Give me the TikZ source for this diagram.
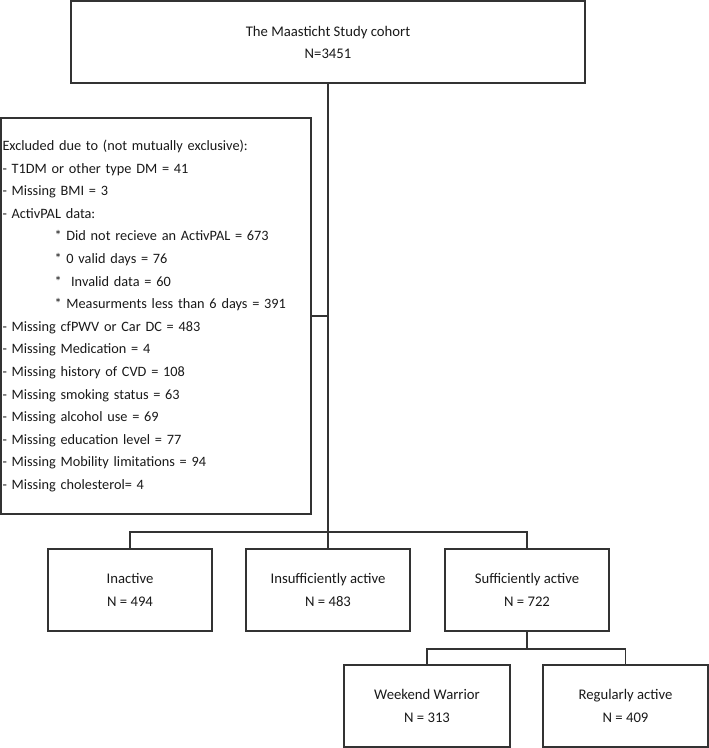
\documentclass[tikz,border=0pt]{standalone}
\usepackage{fontspec}
\setmainfont{Carlito}
\begin{document}
\begin{tikzpicture}[x=1pt,y=-1pt,
  box/.style={draw=black!80, line width=1.2pt, rectangle, minimum width=164pt, minimum height=82pt,
    align=center, inner sep=0pt, text=black!90, font=\fontsize{14.7}{23}\selectfont},
  conn/.style={draw=black!80, line width=1.2pt}]
\useasboundingbox (0,0) rectangle (709,748);
\node[box, minimum width=514pt, font=\fontsize{14.7}{22}\selectfont] (top) at (328,42) {The Maasticht Study cohort\\N=3451};
\node[box, minimum width=310pt, minimum height=396pt, text width=307pt, align=left, inner xsep=1.5pt,
  font=\fontsize{14.3}{22.6}\selectfont] (excl) at (156,316) {%
Excluded due to (not mutually exclusive):\\
- T1DM or other type DM = 41\\
- Missing BMI = 3\\
- ActivPAL data:\\
\hspace*{52pt}* Did not recieve an ActivPAL = 673\\
\hspace*{52pt}* 0 valid days = 76\\
\hspace*{52pt}*\ \ Invalid data = 60\\
\hspace*{52pt}* Measurments less than 6 days = 391\\
- Missing cfPWV or Car DC = 483\\
- Missing Medication = 4\\
- Missing history of CVD = 108\\
- Missing smoking status = 63\\
- Missing alcohol use = 69\\
- Missing education level = 77\\
- Missing Mobility limitations = 94\\
- Missing cholesterol= 4};
\node[box] (inact) at (130,590) {Inactive\\N = 494};
\node[box] (insuf) at (328,590) {Insufficiently active\\N = 483};
\node[box] (suff) at (527,590) {Sufficiently active\\N = 722};
\node[box, minimum width=166pt] (ww) at (427,706) {Weekend Warrior\\N = 313};
\node[box, minimum width=165pt] (reg) at (625.5,706) {Regularly active\\N = 409};
\coordinate (bus) at (328,532);
\coordinate (sub) at (527,649);
\draw[conn] (top.south) -- (bus);
\draw[conn] (excl.east) -- (excl.east -| top.south);
\draw[conn] (inact.north) |- (bus) -| (suff.north);
\draw[conn] (insuf.north) -- (bus);
\draw[conn] (suff.south) -- (sub);
\draw[conn] (ww.north) |- (sub) -| (reg.north);
\end{tikzpicture}
\end{document}
